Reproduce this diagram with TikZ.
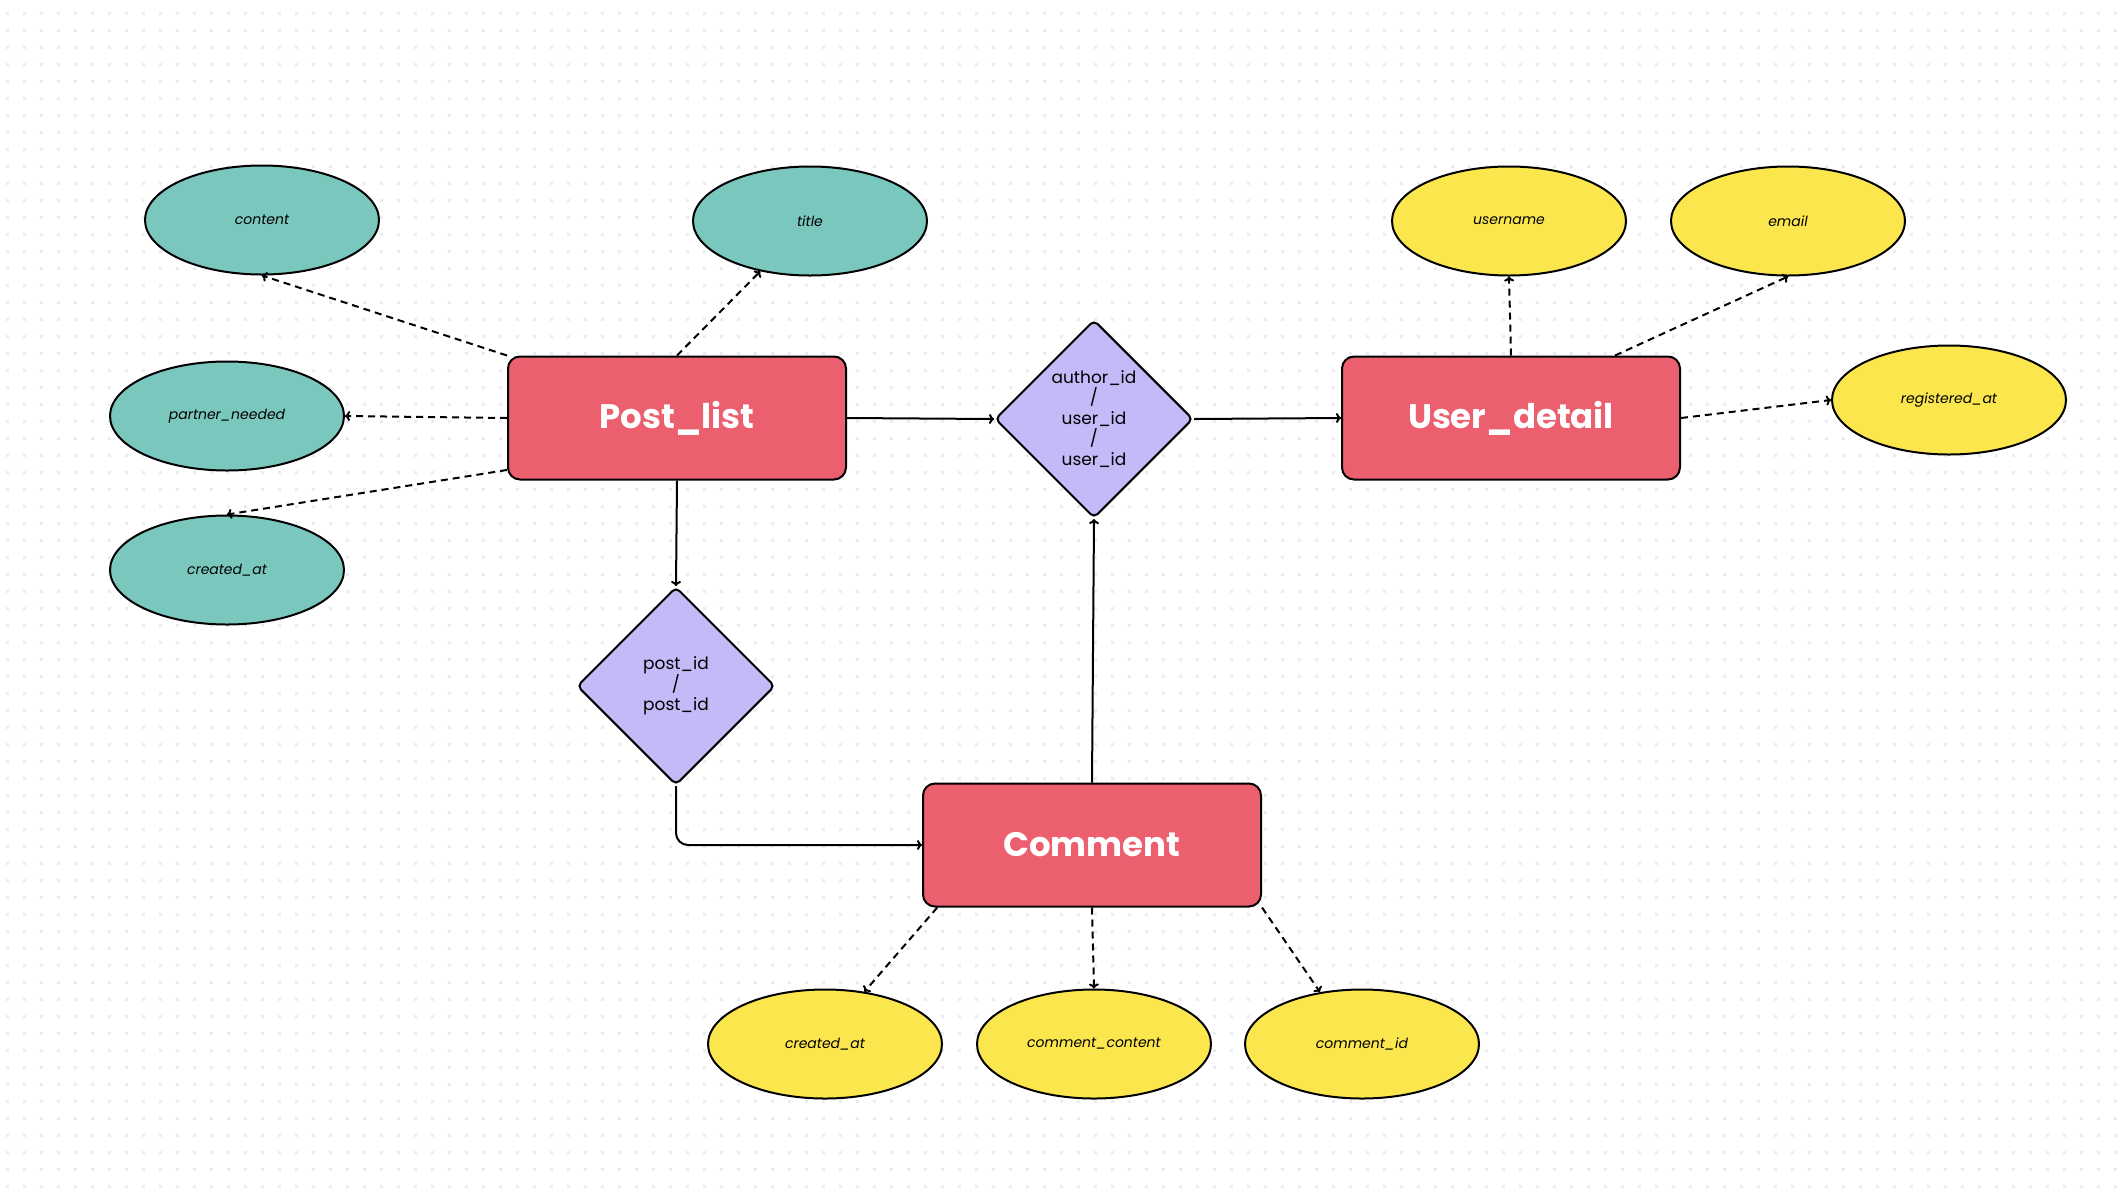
\documentclass[tikz,border=0pt]{standalone}
\usepackage{fontspec}
\setmainfont{Poppins}
\usetikzlibrary{shapes.geometric, arrows.meta}
\definecolor{entityred}{HTML}{EC5F6E}
\definecolor{relpurple}{HTML}{C4BAF8}
\definecolor{attrteal}{HTML}{7AC7BE}
\definecolor{attryellow}{HTML}{FBE64E}
\definecolor{griddot}{HTML}{EBECF0}

\begin{document}
\begin{tikzpicture}[x=1pt, y=-1pt,
		entity/.style={draw, line width=2pt, fill=entityred, rounded corners=12pt, minimum width=338pt, minimum height=123pt, text=white, font=\fontsize{34}{38}\selectfont\bfseries},
		relation/.style={diamond, draw, line width=2pt, fill=relpurple, rounded corners=5pt, minimum width=198pt, minimum height=198pt, inner sep=0pt, align=center, font=\fontsize{17}{20.5}\selectfont},
		attr/.style={ellipse, draw, line width=2pt, minimum width=234pt, minimum height=109pt, font=\fontsize{14}{17}\selectfont\itshape},
		link/.style={line width=2pt, -{To[length=5pt,width=10pt]}},
		attrlink/.style={link, dash pattern=on 7pt off 5pt}]
		% Page and dotted background
		\fill[white] (0,0) rectangle (2118,1200);
		\useasboundingbox (0,0) rectangle (2118,1200);
		\foreach \row in {0,...,69}
			\draw[griddot, line width=3pt, dash pattern=on 3pt off 14pt] (5.5,13+17*\row) -- (2118,13+17*\row);

		% Entities
		\node[entity] (post) at (677,418) {Post\_list};
		\node[entity] (user) at (1511,418) {User\_detail};
		\node[entity] (comment) at (1092,845) {Comment};

		% Relations
		\node[relation] (authrel) at (1094,419) {author\_id\\/\\user\_id\\/\\user\_id};
		\node[relation] (postrel) at (676,686) {post\_id\\/\\post\_id};

		% Attributes of Post_list
		\node[attr, fill=attrteal] (content) at (262,220) {content};
		\node[attr, fill=attrteal] (title) at (810,221) {title};
		\node[attr, fill=attrteal] (partner) at (227,416) {partner\_needed};
		\node[attr, fill=attrteal] (postcreated) at (227,570) {created\_at};

		% Attributes of User_detail
		\node[attr, fill=attryellow] (username) at (1509,221) {username};
		\node[attr, fill=attryellow] (email) at (1788,221) {email};
		\node[attr, fill=attryellow] (registered) at (1949,400) {registered\_at};

		% Attributes of Comment
		\node[attr, fill=attryellow] (commentcreated) at (825,1044) {created\_at};
		\node[attr, fill=attryellow] (commentcontent) at (1094,1044) {comment\_content};
		\node[attr, fill=attryellow] (commentid) at (1362,1044) {comment\_id};

		% Relationship lines
		\draw[link] (post.east) -- (authrel.west);
		\draw[link] (authrel.east) -- (user.west);
		\draw[link] (post.south) -- (postrel.north);
		\draw[link, rounded corners=12pt] (postrel.south) |- (comment.west);
		\draw[link] (comment.north) -- (authrel.south);

		% Attribute lines
		\draw[attrlink] (post.north west) -- (content.south);
		\draw[attrlink] (post.north) -- (title);
		\draw[attrlink] (post.west) -- (partner.east);
		\draw[attrlink] (post.197) -- (postcreated.north);
		\draw[attrlink] (user.north) -- (username.south);
		\draw[attrlink] (user.31) -- (email.south);
		\draw[attrlink] (user.east) -- (registered.west);
		\draw[attrlink] (comment.202.8) -- (commentcreated.53);
		\draw[attrlink] (comment.south) -- (commentcontent.north);
		\draw[attrlink] (comment.south east) -- (commentid.129);
	\end{tikzpicture}
\end{document}
